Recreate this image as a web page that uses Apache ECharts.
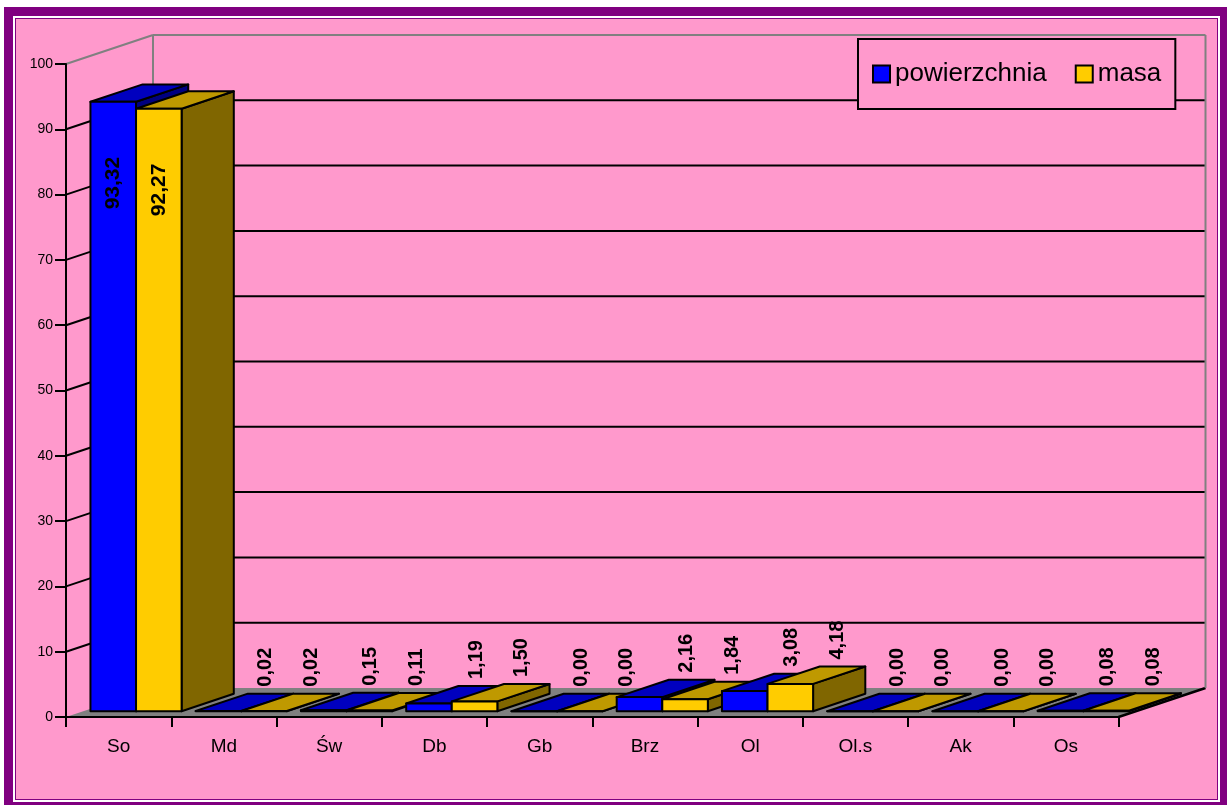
<!DOCTYPE html>
<html>
<head>
<meta charset="utf-8">
<script src="https://cdn.jsdelivr.net/npm/echarts@6/dist/echarts.min.js"></script>
<style>
  body { margin: 0; background: #fff; }
  .frame { position: absolute; box-sizing: border-box; }
  #f1 { left: 4px; top: 7px; width: 1223px; height: 803px; background: #800080; }
  #f2 { left: 12.7px; top: 16px; width: 1207px; height: 785.7px; background: #fff; }
  #f3 { left: 14.5px; top: 18px; width: 1203.8px; height: 782px; background: #FF99CC; border: 1.5px solid #800080; }
  #chart { position: absolute; left: 0; top: 0; width: 1230px; height: 805px; }
</style>
</head>
<body>
<div class="frame" id="f1"></div>
<div class="frame" id="f2"></div>
<div class="frame" id="f3"></div>
<div id="chart"></div>
<script>
// dane
const categories = ['So', 'Md', 'Św', 'Db', 'Gb', 'Brz', 'Ol', 'Ol.s', 'Ak', 'Os']
const powierzchnia = [93.32, 0.02, 0.15, 1.19, 0.00, 2.16, 3.08, 0.00, 0.00, 0.08]
const masa = [92.27, 0.02, 0.11, 1.50, 0.00, 1.84, 4.18, 0.00, 0.00, 0.08]
const yTicks = [0, 10, 20, 30, 40, 50, 60, 70, 80, 90, 100]

// pseudo 3D
const DX = 87
const DY = -29
const D0 = 0.2
const D1 = 0.8
const BAR_RATIO = 0.433
const FONT = 'Arial, "Liberation Sans", sans-serif'

const faces = [
  { front: '#0000FF', top: '#0000BF', side: '#000080' },
  { front: '#FFCC00', top: '#BF9900', side: '#806600' }
]

function wallsItem (params, api) {
  const v = api.value(1)
  const catW = api.size([1, 0])[0]
  const p = api.coord([0, v])
  const x0 = p[0] - catW / 2
  const x1 = api.coord([categories.length - 1, v])[0] + catW / 2
  const y = p[1]
  const y0 = api.coord([0, 0])[1]
  const black = { stroke: '#000', lineWidth: 2 }
  const gray = { stroke: '#808080', lineWidth: 2 }
  const children = []
  if (v === 0) {
    children.push({
      type: 'polygon',
      shape: { points: [[x0, y], [x1, y], [x1 + DX, y + DY], [x0 + DX, y + DY]] },
      style: { fill: '#808080' }
    })
    children.push({
      type: 'line',
      shape: { x1: x1, y1: y, x2: x1 + DX, y2: y + DY },
      style: { stroke: '#000', lineWidth: 2.5 }
    })
  } else if (v === 100) {
    children.push({ type: 'line', shape: { x1: x0, y1: y, x2: x0 + DX, y2: y + DY }, style: gray })
    children.push({ type: 'line', shape: { x1: x0 + DX, y1: y + DY, x2: x1 + DX, y2: y + DY }, style: gray })
    children.push({ type: 'line', shape: { x1: x0 + DX, y1: y + DY, x2: x0 + DX, y2: y0 + DY }, style: gray })
    children.push({ type: 'line', shape: { x1: x1 + DX, y1: y + DY, x2: x1 + DX, y2: y0 + DY }, style: gray })
  } else {
    children.push({ type: 'line', shape: { x1: x0, y1: y, x2: x0 + DX, y2: y + DY }, style: black })
    children.push({ type: 'line', shape: { x1: x0 + DX, y1: y + DY, x2: x1 + DX, y2: y + DY }, style: black })
  }
  return { type: 'group', children: children }
}

function barItem (s) {
  return function (params, api) {
    const c = api.value(0)
    const v = api.value(1)
    const base = api.coord([c, 0])
    const top = api.coord([c, v])
    const catW = api.size([1, 0])[0]
    const bw = catW * BAR_RATIO
    const L = base[0] - bw + s * bw
    const R = L + bw
    const fx = DX * D0
    const fy = DY * D0
    const bx = DX * D1
    const by = DY * D1
    const yT = top[1]
    const yB = base[1]
    const col = faces[s]
    const z2 = c * 10 + s * 3
    const edge = { stroke: '#000', lineWidth: 2, lineJoin: 'round' }
    const txt = v.toFixed(2).replace('.', ',')
    const inside = v > 80
    const label = inside
      ? { type: 'text', x: (L + R) / 2 + fx, y: yT + fy + 55, rotation: Math.PI / 2, z2: 1000,
          style: { text: txt, align: 'right', verticalAlign: 'middle', font: 'bold 21px ' + FONT, fill: '#000' } }
      : { type: 'text', x: (L + R) / 2 + fx + 47, y: yT + by - 7, rotation: Math.PI / 2, z2: 1000,
          style: { text: txt, align: 'left', verticalAlign: 'middle', font: 'bold 20px ' + FONT, fill: '#000' } }
    return {
      type: 'group',
      children: [
        {
          type: 'polygon', z2: z2,
          shape: { points: [[R + fx, yT + fy], [R + bx, yT + by], [R + bx, yB + by], [R + fx, yB + fy]] },
          style: Object.assign({ fill: col.side }, edge)
        },
        {
          type: 'polygon', z2: z2 + 1,
          shape: { points: [[L + fx, yT + fy], [R + fx, yT + fy], [R + bx, yT + by], [L + bx, yT + by]] },
          style: Object.assign({ fill: col.top }, edge)
        },
        {
          type: 'polygon', z2: z2 + 2,
          shape: { points: [[L + fx, yT + fy], [R + fx, yT + fy], [R + fx, yB + fy], [L + fx, yB + fy]] },
          style: Object.assign({ fill: col.front }, edge)
        },
        label
      ]
    }
  }
}

const chart = echarts.init(document.getElementById('chart'))
chart.setOption({
  animation: false,
  legend: {
    data: ['powierzchnia', 'masa'],
    icon: 'rect',
    left: 858,
    top: 39,
    padding: [22, 14],
    itemGap: 28,
    itemWidth: 17,
    itemHeight: 17,
    backgroundColor: '#FF99CC',
    borderColor: '#000',
    borderWidth: 2,
    borderRadius: 0,
    itemStyle: { borderColor: '#000', borderWidth: 2 },
    textStyle: { fontSize: 26, fontFamily: FONT, color: '#000' }
  },
  grid: { left: 66, right: 111.5, top: 64, bottom: 88 },
  xAxis: {
    type: 'category',
    data: categories,
    z: 3,
    axisLine: { show: true, lineStyle: { color: '#000', width: 2 } },
    axisTick: { show: true, interval: 0, length: 10, lineStyle: { color: '#000', width: 2 } },
    axisLabel: { interval: 0, margin: 20, fontSize: 19, fontFamily: FONT, color: '#000' },
    splitLine: { show: false }
  },
  yAxis: {
    type: 'value',
    min: 0,
    max: 100,
    interval: 10,
    z: 3,
    axisLine: { show: true, lineStyle: { color: '#000', width: 2 } },
    axisTick: { show: true, length: 11, lineStyle: { color: '#000', width: 2 } },
    axisLabel: { margin: 13, fontSize: 14, fontFamily: FONT, color: '#000' },
    splitLine: { show: false }
  },
  series: [
    {
      name: 'walls',
      type: 'custom',
      z: 1,
      silent: true,
      renderItem: wallsItem,
      encode: { x: 0, y: 1 },
      data: yTicks.map(v => [0, v])
    },
    {
      name: 'powierzchnia',
      type: 'custom',
      itemStyle: { color: faces[0].front },
      renderItem: barItem(0),
      encode: { x: 0, y: 1 },
      data: powierzchnia.map((v, i) => [i, v])
    },
    {
      name: 'masa',
      type: 'custom',
      itemStyle: { color: faces[1].front },
      renderItem: barItem(1),
      encode: { x: 0, y: 1 },
      data: masa.map((v, i) => [i, v])
    }
  ]
})
</script>
</body>
</html>
